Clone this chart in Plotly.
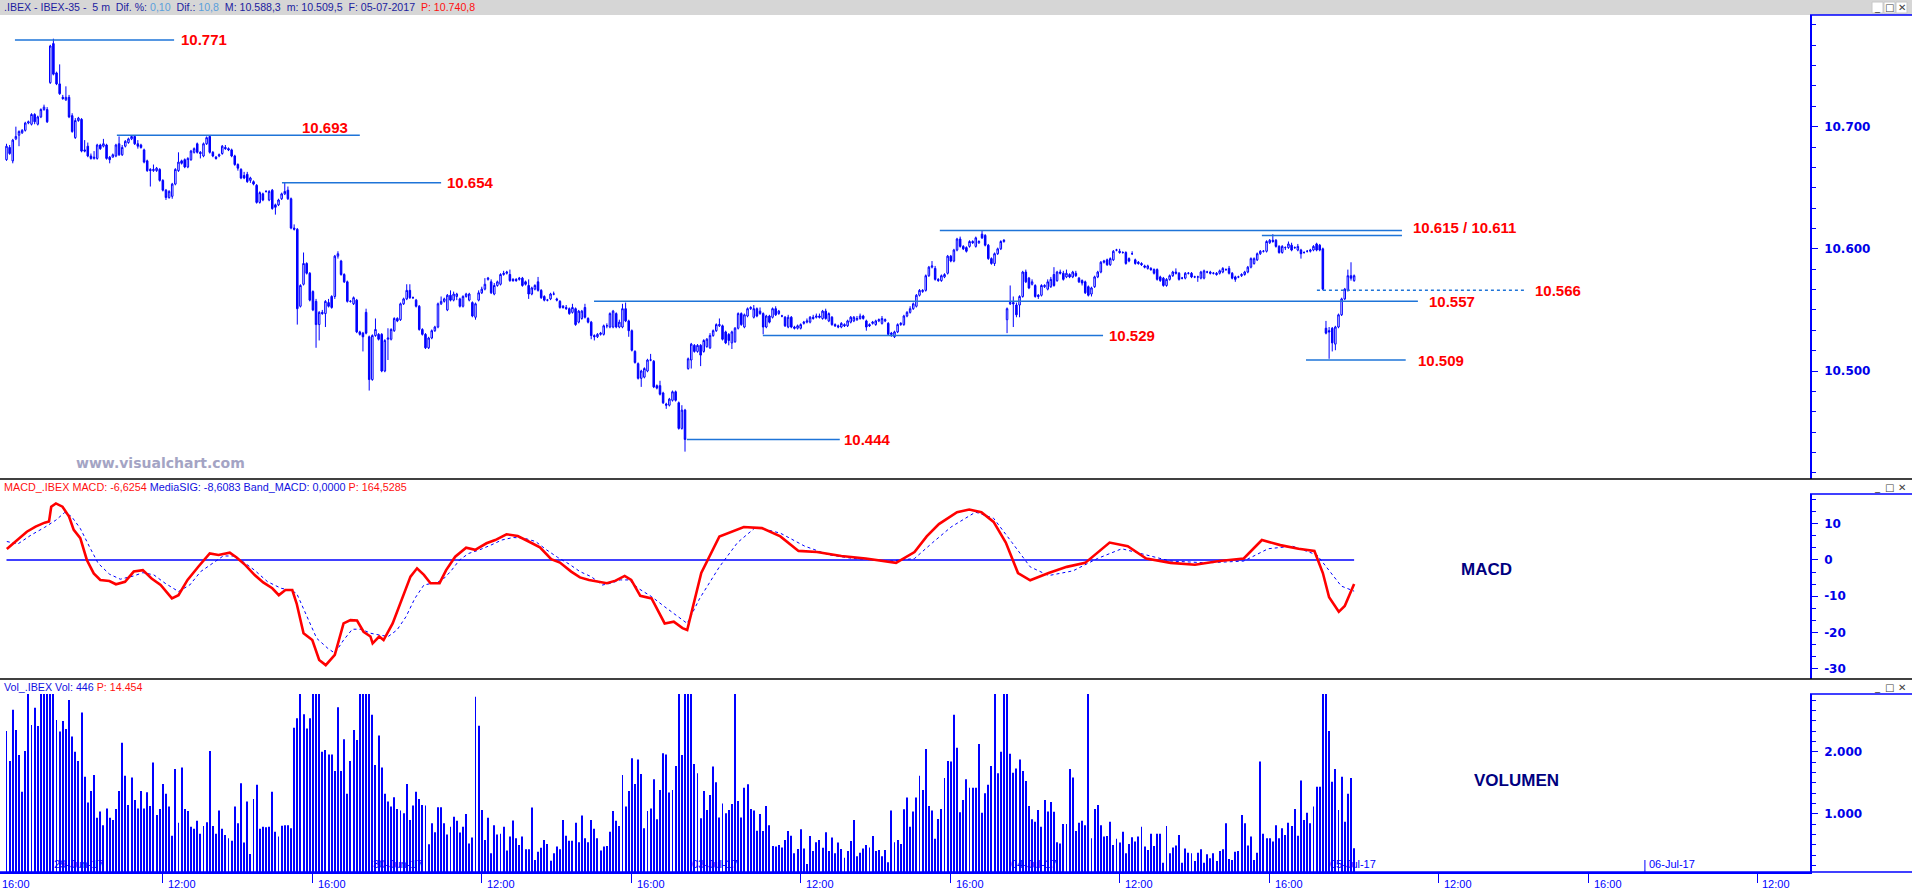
import plotly.graph_objects as go

# ---------------- price data (5 minute bars, index 0 = 28-Jun 16:20) ----------------
open_ = [
    10673,10683,10672,10690,10693,10695,10697,10703,10702,10710,10702,10708,10714,10714,
    10736,10768,10744,10735,10724,10722,10724,10709,10691,10705,
    10706,10681,10684,10676,10674,10674,10685,10684,10685,10675,
    10675,10676,10686,10677,10684,10687,10690,10692,10686,10685,
    10681,10672,10665,10664,10664,10665,10656,10648,10642,10643,
    10653,10664,10672,10673,10667,10673,10679,10686,10679,10676,
    10686,10692,10679,10675,10676,10678,10683,10682,10681,10676,
    10669,10665,10660,10661,10656,10655,10652,10638,10645,10647,
    10640,10648,10636,10636,10641,10645,10648,10641,10617,10616,
    10553,10571,10588,10580,10565,10557,10538,10548,10547,10556,
    10561,10561,10594,10590,10579,10573,10557,10555,10558,10532,
    10531,10548,
    10528,10493,10529,10530,10530,10500,10526,10526,10533,10543,
    10542,10555,10559,10566,10560,10558,10553,10534,10530,10519,
    10527,10533,10536,10555,10557,10550,10562,10558,
    10561,10559,10553,10561,10558,10556,10544,10558,10564,10567,
    10575,10573,10563,10570,10571,10579,10580,10579,10575,10575,
    10575,10576,10573,10570,10563,10567,10573,10566,10561,10558,
    10559,10563,10559,10557,10553,10552,10551,10548,10551,10540,
    10543,10552,10543,10540,10529,10528,10530,10530,10537,10536,
    10536,10547,10536,10536,10551,10541,10533,10516,10506,10494,
    10495,10500,10509,10508,10488,10488,10482,10473,10472,10476,
    10483,10474,10453,10468,
    10502,10509,10521,10516,10521,10516,10520,10519,10529,10533,
    10537,10537,10532,10530,10523,10524,10535,10547,10536,10545,
    10551,10544,10551,10549,10547,10536,10545,10544,10551,10547,
    10545,10544,10536,10544,10536,10535,10535,10539,10540,10540,
    10544,10544,10545,10543,10549,10541,10544,10538,10537,10536,
    10538,10537,10540,10541,10542,10543,10545,10541,10538,10539,
    10538,10541,10539,10541,10539,10531,10528,10532,10538,10538,
    10545,10548,10551,10553,10562,10565,10566,10578,10585,10584,
    10575,10574,10577,10580,10594,10590,10599,10608,10602,10601,
    10602,10606,10602,10605,10612,10611,10603,10592,10588,10596,
    10600,10606,
    10542,10555,10556,10554,10554,10561,10581,10576,10571,10570,
    10562,10562,10569,10567,10569,10579,10574,10581,10580,10577,
    10579,10577,10580,10576,10574,10573,10569,10563,10569,10577,
    10581,10589,10591,10587,10591,10599,10598,10597,10597,10592,
    10596,10591,10589,10588,10586,10584,10584,10583,10583,10577,
    10576,10570,10575,10578,10581,10580,10576,10576,10580,10580,
    10577,10577,10576,10576,10581,10581,10580,10580,10580,10581,
    10583,10584,10580,10577,10577,10578,10579,10581,10585,10588,
    10591,10596,10598,10598,10605,10607,10607,10602,10597,10601,
    10601,10603,10601,10599,10599,10597,10598,10598,10599,10604,
    10603,10600,
    10535,10533,10535,10522,10536,10546,10559,10566,10578,10574,
]
high = [
    10686,10685,10690,10700,10697,10698,10704,10705,10711,10711,10709,10715,10718,10716,
    10767,10772,10745,10751,10726,10733,10726,10711,10707,10708,
    10707,10689,10687,10678,10680,10686,10686,10690,10686,10676,
    10678,10686,10692,10685,10689,10691,10693,10693,10689,10686,
    10682,10673,10666,10669,10667,10666,10657,10649,10648,10654,
    10666,10679,10673,10674,10675,10681,10683,10687,10680,10687,
    10692,10693,10680,10676,10678,10685,10685,10683,10682,10677,
    10670,10666,10663,10663,10659,10656,10653,10647,10646,10648,
    10648,10649,10637,10641,10646,10654,10651,10642,10620,10617,
    10571,10597,10589,10581,10566,10559,10549,10550,10558,10559,
    10562,10595,10598,10591,10580,10574,10558,10561,10559,10533,
    10532,10551,
    10529,10530,10543,10531,10531,10526,10535,10535,10544,10544,
    10556,10560,10571,10571,10561,10559,10554,10535,10531,10528,
    10534,10537,10556,10561,10560,10563,10566,10565,
    10564,10560,10562,10564,10564,10557,10556,10566,10569,10576,
    10577,10575,10572,10574,10580,10582,10582,10583,10576,10576,
    10577,10577,10574,10575,10569,10571,10577,10567,10562,10559,
    10564,10565,10560,10558,10554,10554,10552,10555,10552,10550,
    10550,10555,10544,10541,10530,10531,10532,10538,10539,10548,
    10550,10548,10542,10555,10556,10542,10534,10517,10507,10501,
    10503,10510,10514,10509,10489,10492,10483,10474,10478,10484,
    10484,10475,10472,10469,
    10511,10523,10522,10522,10522,10526,10527,10531,10534,10539,
    10543,10538,10533,10531,10533,10536,10548,10548,10547,10552,
    10553,10554,10552,10552,10548,10546,10546,10552,10553,10550,
    10546,10545,10546,10545,10537,10538,10539,10541,10543,10545,
    10546,10547,10547,10550,10551,10548,10545,10539,10538,10540,
    10539,10542,10545,10545,10545,10547,10546,10542,10539,10541,
    10542,10543,10545,10543,10540,10532,10533,10539,10540,10546,
    10549,10553,10556,10563,10567,10567,10579,10586,10590,10586,
    10576,10579,10580,10595,10595,10600,10609,10610,10603,10602,
    10607,10607,10610,10607,10615,10612,10604,10593,10597,10601,
    10607,10608,
    10552,10570,10561,10556,10562,10582,10583,10577,10575,10571,
    10563,10571,10571,10575,10577,10585,10582,10583,10582,10583,
    10580,10582,10582,10577,10575,10574,10570,10569,10578,10582,
    10590,10591,10592,10593,10599,10600,10600,10598,10598,10593,
    10598,10592,10590,10589,10587,10587,10585,10584,10584,10578,
    10577,10576,10579,10582,10584,10581,10577,10581,10581,10581,
    10578,10578,10582,10583,10582,10582,10581,10581,10583,10585,
    10584,10586,10581,10578,10578,10580,10582,10586,10593,10593,
    10597,10599,10599,10607,10608,10612,10608,10603,10603,10602,
    10606,10605,10602,10604,10600,10598,10599,10600,10603,10605,
    10604,10601,
    10541,10536,10536,10537,10547,10560,10568,10583,10589,10579,
]
low = [
    10672,10677,10670,10689,10684,10694,10696,10702,10701,10702,10701,10707,10713,10703,
    10735,10742,10734,10726,10722,10721,10707,10695,10690,10704,
    10679,10679,10675,10673,10673,10673,10681,10683,10673,10670,
    10675,10675,10676,10676,10683,10686,10689,10685,10682,10682,
    10670,10663,10651,10663,10663,10655,10647,10640,10641,10641,
    10652,10663,10669,10666,10666,10672,10678,10678,10674,10675,
    10685,10678,10675,10673,10675,10677,10681,10680,10675,10668,
    10664,10657,10657,10654,10654,10652,10637,10637,10639,10646,
    10639,10632,10628,10635,10640,10644,10640,10616,10615,10538,
    10552,10570,10579,10557,10549,10519,10525,10546,10536,10552,
    10551,10559,10592,10578,10572,10556,10556,10554,10531,10529,
    10516,10530,
    10484,10492,10528,10525,10499,10499,10509,10525,10532,10540,
    10541,10554,10558,10559,10559,10552,10533,10529,10518,10518,
    10526,10532,10535,10554,10556,10549,10557,10557,
    10558,10552,10552,10560,10557,10544,10542,10557,10563,10566,
    10574,10563,10562,10569,10570,10578,10579,10573,10573,10573,
    10574,10569,10570,10559,10562,10566,10565,10559,10557,10557,
    10558,10562,10557,10551,10551,10550,10546,10547,10537,10539,
    10542,10543,10539,10526,10525,10527,10529,10529,10535,10535,
    10535,10535,10535,10535,10540,10528,10516,10506,10493,10487,
    10494,10499,10508,10486,10485,10480,10473,10469,10471,10475,
    10475,10452,10452,10434,
    10501,10502,10515,10515,10504,10515,10519,10518,10528,10532,
    10536,10525,10522,10521,10518,10523,10534,10537,10535,10544,
    10550,10543,10544,10546,10530,10535,10539,10543,10545,10546,
    10544,10536,10535,10535,10534,10534,10534,10538,10539,10539,
    10542,10543,10543,10542,10542,10540,10537,10536,10535,10535,
    10536,10536,10539,10540,10541,10542,10542,10533,10536,10538,
    10537,10540,10538,10540,10529,10528,10527,10531,10537,10537,
    10544,10547,10550,10552,10561,10564,10565,10577,10584,10574,
    10573,10573,10576,10579,10589,10589,10598,10601,10599,10597,
    10601,10604,10601,10604,10608,10602,10591,10587,10586,10595,
    10599,10605,
    10531,10554,10536,10544,10544,10560,10572,10567,10570,10560,
    10559,10561,10568,10566,10568,10569,10573,10579,10574,10576,
    10576,10576,10577,10572,10570,10563,10561,10561,10568,10576,
    10580,10588,10586,10586,10590,10598,10596,10596,10587,10589,
    10595,10587,10587,10586,10584,10583,10582,10579,10574,10573,
    10569,10569,10574,10577,10579,10574,10575,10575,10579,10576,
    10576,10573,10575,10575,10580,10579,10579,10578,10579,10580,
    10582,10579,10575,10573,10576,10577,10578,10580,10584,10587,
    10590,10595,10597,10597,10604,10605,10601,10596,10596,10599,
    10600,10598,10600,10598,10592,10596,10597,10597,10598,10598,
    10598,10566,
    10530,10510,10516,10517,10535,10545,10558,10565,10574,10573,
]
close = [
    10684,10678,10689,10692,10696,10697,10703,10704,10710,10704,10708,10714,10716,10704,
    10766,10743,10735,10727,10723,10724,10708,10696,10705,10707,
    10680,10680,10676,10674,10675,10685,10682,10686,10674,10673,
    10677,10685,10677,10683,10688,10690,10692,10686,10684,10683,
    10671,10664,10664,10665,10666,10656,10648,10642,10647,10653,
    10665,10671,10670,10667,10674,10680,10682,10679,10678,10686,
    10691,10679,10676,10674,10677,10684,10682,10681,10676,10669,
    10666,10658,10658,10655,10658,10653,10638,10646,10640,10647,
    10647,10633,10634,10640,10645,10647,10641,10617,10616,10551,
    10570,10588,10580,10558,10550,10538,10548,10547,10557,10553,
    10552,10594,10596,10579,10573,10557,10557,10560,10532,10530,
    10528,10531,
    10493,10529,10534,10526,10500,10525,10527,10534,10543,10541,
    10555,10559,10566,10560,10560,10553,10534,10530,10519,10527,
    10533,10536,10555,10557,10559,10562,10558,10563,
    10563,10553,10561,10563,10563,10545,10555,10564,10567,10571,
    10576,10564,10570,10573,10579,10580,10581,10574,10574,10574,
    10576,10570,10571,10563,10568,10570,10566,10560,10558,10558,
    10563,10563,10558,10552,10552,10551,10547,10552,10538,10549,
    10549,10544,10540,10529,10528,10530,10531,10537,10537,10547,
    10549,10536,10540,10551,10541,10533,10517,10507,10494,10500,
    10502,10509,10509,10487,10486,10481,10474,10472,10477,10483,
    10476,10453,10468,10444,
    10510,10522,10516,10521,10513,10525,10526,10529,10533,10538,
    10538,10526,10523,10525,10532,10535,10547,10538,10546,10551,
    10552,10551,10545,10547,10536,10545,10540,10551,10546,10549,
    10545,10537,10544,10536,10535,10537,10538,10540,10541,10544,
    10543,10545,10544,10549,10543,10547,10538,10537,10536,10539,
    10537,10541,10544,10544,10543,10545,10543,10536,10537,10540,
    10541,10542,10543,10542,10530,10530,10532,10538,10539,10545,
    10548,10551,10555,10562,10566,10566,10578,10585,10586,10575,
    10574,10578,10579,10594,10590,10599,10608,10602,10600,10598,
    10606,10605,10609,10606,10609,10603,10592,10588,10596,10600,
    10606,10607,
    10551,10556,10555,10546,10561,10581,10573,10568,10573,10561,
    10561,10570,10570,10573,10575,10570,10581,10580,10575,10580,
    10577,10581,10578,10573,10572,10564,10562,10568,10577,10581,
    10589,10590,10587,10592,10598,10599,10597,10597,10588,10590,
    10596,10588,10588,10587,10585,10586,10583,10580,10575,10574,
    10570,10575,10578,10581,10580,10575,10576,10580,10580,10577,
    10577,10577,10581,10582,10581,10580,10580,10579,10582,10584,
    10583,10580,10576,10575,10577,10579,10581,10585,10592,10592,
    10596,10598,10598,10606,10607,10606,10602,10597,10602,10601,
    10604,10599,10601,10602,10596,10597,10598,10599,10602,10599,
    10599,10567,
    10531,10532,10523,10536,10546,10559,10567,10578,10576,10578,
]

volume = [
    2340,1855,2680,2355,1950,1360,2015,3600,2435,2715,
    2420,3600,3600,3600,3600,3600,2515,2330,2500,2370,
    2840,2250,2005,1855,2635,1600,1185,1370,1630,940,
    1040,820,1090,940,905,1080,1370,2150,1615,1145,
    1590,1225,1090,1370,1090,1350,1130,1830,985,1080,
    1485,1325,1120,650,1725,860,1750,1080,1050,795,
    760,890,680,805,865,2015,805,680,1055,760,
    660,610,570,1120,850,1495,540,1200,355,1240,
    1470,760,795,785,795,1360,715,635,810,820,
    820,770,2390,2545,3600,2610,2380,2545,3600,3600,
    3600,2005,2030,1960,1960,1695,2720,1695,2205,1325,
    1855,2355,2195,3600,3600,3600,3600,2600,1790,2265,
    1750,1325,1200,1120,1270,1080,1055,1010,1485,905,
    1135,1360,1240,1145,1135,510,850,705,1110,1110,
    850,670,795,955,890,700,795,1000,525,620,
    2890,2425,1065,580,940,365,820,670,680,795,
    410,635,895,610,500,635,430,430,1105,260,
    390,455,580,515,245,365,475,430,905,650,
    570,570,860,545,975,610,545,905,760,610,
    410,475,485,715,1050,890,805,1630,1120,1370,
    1900,1485,1880,1645,770,1050,1090,1560,915,1385,
    1980,1960,1345,1385,1775,3600,1950,3600,3600,3600,
    1805,1655,930,1370,1065,1305,1765,1510,945,1170,
    1010,1065,1160,3600,1210,945,1425,1480,1080,1055,
    730,1000,725,1130,820,485,475,500,460,580,
    725,650,365,435,755,445,195,645,405,545,
    580,455,705,405,620,365,540,435,295,405,
    565,905,320,375,445,500,460,645,405,420,
    320,420,220,1055,545,580,515,1075,1265,795,
    1040,1265,1615,1385,2050,1130,1055,600,920,1080,
    1580,1855,1845,2600,2070,1030,1225,1560,1425,1425,
    1425,2130,1020,1335,1470,1775,3600,1655,2005,3600,
    3600,1970,1665,1735,1880,1695,1530,1130,915,875,
    1065,795,1225,1040,1195,1035,545,525,840,840,
    1725,1590,725,860,890,820,3600,610,1080,1145,
    820,635,645,875,500,600,540,715,365,515,
    625,555,635,795,475,420,680,485,680,680,
    215,805,365,460,490,660,215,445,375,
    365,240,375,430,215,350,285,365,240,405,
    430,850,275,260,390,405,985,850,490,635,
    260,375,1845,680,610,610,555,820,610,770,
    660,860,805,1080,650,1540,905,1020,850,1120,
    1440,1440,3600,3600,2340,1520,1725,1065,1600,875,
    1325,1580,446,
]

# MACD (red) and signal (blue dotted) read at bar positions
macd_idx = [0.1,2.9,6.5,9.3,12.2,13.6,14.3,15.8,17.9,20.0,21.5,23.6,25.7,27.9,30.0,32.9,35.0,37.9,40.7,43.6,
            46.4,49.3,52.9,55.0,57.9,61.4,65.0,67.8,71.4,73.6,76.4,79.3,82.1,85.0,87.1,89.2,91.4,92.8,95.0,97.8,
            100.0,102.1,105.0,107.8,110.0,112.1,114.2,116.4,117.1,119.2,120.6,123.5,126.4,129.2,131.3,133.5,135.6,
            138.5,140.6,143.5,147.0,149.9,153.5,156.3,159.9,163.5,167.0,170.6,174.2,177.0,180.6,183.4,186.3,189.1,
            192.0,194.8,197.7,199.8,202.7,206.3,210.5,213.4,216.2,217.7,222.2,228.0,235.8,241.6,247.5,253.3,259.2,
            267.0,274.8,284.5,290.4,294.3,298.2,304.0,307.9,311.8,315.7,319.6,323.5,327.4,333.3,339.1,345.0,352.8,
            358.6,364.5,372.3,380.1,387.9,395.7,401.5,407.4,413.2,418.3,421.0,423.0,426.1,428.0,431.0]
macd_val = [3.0,5.1,7.8,9.2,10.3,10.6,14.7,15.6,14.7,12.0,8.3,6.0,0.0,-3.7,-5.5,-5.8,-6.7,-6.0,-3.2,-2.8,
            -5.1,-6.9,-10.6,-9.7,-5.5,-1.8,1.8,1.4,2.0,0.7,-1.4,-4.1,-6.2,-7.8,-9.7,-8.3,-8.3,-12.0,-20.2,-22.1,
            -27.6,-29.0,-26.2,-17.5,-16.6,-16.7,-19.8,-21.1,-23.0,-21.1,-22.1,-17.5,-11.0,-4.6,-2.3,-4.1,-6.4,
            -6.4,-2.8,0.9,3.4,2.8,4.6,5.5,7.1,6.6,5.1,3.5,0.2,-0.7,-3.2,-4.8,-5.5,-6.0,
            -6.4,-5.7,-4.4,-5.5,-9.9,-10.6,-17.5,-17.0,-18.8,-19.3,-3.6,6.5,9.1,8.8,6.5,2.5,2.2,
            1.1,0.4,-0.8,2.2,6.5,9.9,13.2,13.9,13.2,10.5,4.8,-3.6,-5.6,-3.6,-1.9,-0.8,4.8,
            3.8,0.4,-0.8,-1.3,-0.3,0.4,5.5,4.1,3.1,2.5,-3.6,-10.3,-14.3,-12.7,-6.6]
sig_idx = [0.1,3.6,7.9,12.2,15.8,18.6,20.8,23.6,26.5,29.3,32.9,36.4,40.7,43.6,47.1,50.7,55.0,58.6,62.1,66.4,
           69.3,72.8,75.7,79.3,83.5,87.8,90.7,92.8,95.7,99.2,102.8,105.0,107.8,110.6,113.5,116.4,119.2,122.1,
           124.9,127.8,130.6,133.5,136.3,139.2,142.0,144.9,147.8,151.3,154.9,158.4,162.0,165.6,169.2,172.7,
           176.3,179.9,183.4,187.0,190.6,193.4,196.3,199.1,202.0,206.3,210.5,214.8,217.7,221.7,228.0,233.8,
           239.7,247.5,255.3,263.1,270.9,282.6,290.4,296.2,302.1,309.9,315.7,321.6,327.4,333.3,341.1,348.9,
           356.7,364.5,372.3,384.0,395.7,403.5,411.3,419.1,423.0,426.9,431.0]
sig_val = [5.1,4.4,6.9,9.0,11.0,13.1,12.0,8.7,3.7,-0.9,-3.9,-5.3,-4.4,-3.5,-4.1,-6.4,-8.7,-6.9,-3.2,-0.5,
           1.1,1.1,-0.5,-2.8,-6.0,-7.8,-8.3,-9.2,-14.7,-21.6,-24.4,-25.7,-22.1,-19.1,-19.1,-20.2,-20.7,-21.1,
           -19.3,-15.6,-10.6,-6.9,-6.4,-5.7,-3.2,0.0,1.8,2.8,4.1,5.5,6.2,6.0,5.1,2.8,
           0.7,-1.1,-3.2,-4.6,-6.9,-6.4,-5.5,-5.5,-7.8,-10.1,-12.9,-15.6,-17.5,-10.6,-1.9,4.8,
           9.1,7.4,3.8,1.4,0.4,-0.3,0.4,4.8,9.1,13.2,11.5,4.8,-1.9,-4.3,-3.0,0.4,
           3.1,1.4,-0.3,-0.8,-0.3,3.1,3.8,1.4,-3.0,-7.2,-8.6]
band_macd = 0.0

# support / resistance levels
level_price = [10771, 10693, 10654, 10444, 10529, 10557, 10615, 10611, 10566, 10509]
level_from = [2.7, 35.3, 88.1, 217.6, 241.9, 187.9, 298.5, 401.5, 419.1, 415.6]
level_to = [53.6, 113.0, 139.0, 266.5, 350.7, 451.4, 446.3, 446.3, 485.3, 447.5]
level_text = ["10.771", "10.693", "10.654", "10.444", "10.529", "10.557", "10.615 / 10.611", "", "10.566", "10.509"]

# axis ticks
time_tick_idx = [-6, 50, 98, 152, 200, 254, 302, 356, 404, 458, 506, 560]
time_tick_text = ["16:00", "12:00", "16:00", "12:00", "16:00", "12:00", "16:00", "12:00", "16:00", "12:00", "16:00", "12:00"]
day_start_idx = [14, 116, 218, 320, 422, 524]
day_text = ["29-Jun-17", "30-Jun-17", "03-Jul-17", "04-Jul-17", "05-Jul-17", "06-Jul-17"]
price_ticks = [10500, 10600, 10700]
price_tick_text = ["10.500", "10.600", "10.700"]
macd_ticks = [-30, -20, -10, 0, 10]
macd_tick_text = ["-30", "-20", "-10", "0", "10"]
vol_ticks = [1000, 2000]
vol_tick_text = ["1.000", "2.000"]

# ---------------- figure ----------------
W, H = 1912, 892
ML, MR, MT, MB = 0, 102, 15, 20
PW = W - ML - MR
PH = H - MT - MB


def py(ypix):
    return (H - MB - ypix) / PH


def px(xpix):
    return (xpix - ML) / PW


BLUE = "#0000ff"
LEVEL = "#1e74d8"
n = len(close)
xs = list(range(n))

fig = go.Figure()
fig.add_trace(go.Candlestick(
    x=xs, open=open_, high=high, low=low, close=close,
    increasing=dict(line=dict(color=BLUE, width=1), fillcolor="#ffffff"),
    decreasing=dict(line=dict(color=BLUE, width=1), fillcolor=BLUE),
    whiskerwidth=0, xaxis="x", yaxis="y", hoverinfo="skip"))

fig.add_trace(go.Scatter(x=xs, y=[band_macd] * n, mode="lines",
                         line=dict(color=BLUE, width=1.5), xaxis="x", yaxis="y2", hoverinfo="skip"))
fig.add_trace(go.Scatter(x=sig_idx, y=sig_val, mode="lines",
                         line=dict(color=BLUE, width=1, dash="dot"), xaxis="x", yaxis="y2", hoverinfo="skip"))
fig.add_trace(go.Scatter(x=macd_idx, y=macd_val, mode="lines",
                         line=dict(color="#ff0000", width=2.6), xaxis="x", yaxis="y2", hoverinfo="skip"))

fig.add_trace(go.Bar(x=list(range(len(volume))), y=volume, width=0.3,
                     marker=dict(color=BLUE, line=dict(width=0)), xaxis="x", yaxis="y3", hoverinfo="skip"))

shapes = []
annotations = []

# level lines & labels
for k, lv in enumerate(level_price):
    shapes.append(dict(type="line", xref="x", yref="y", x0=level_from[k], x1=level_to[k], y0=lv, y1=lv,
                       line=dict(color=LEVEL, width=1.5, dash="3px,3px" if k == 8 else "solid")))
label_gap = [5, -10, 4, 2, 4, 9, 9, 0, 9, 10]
for k, txt in enumerate(level_text):
    if not txt:
        continue
    a = dict(x=level_to[k], y=level_price[k], xref="x", yref="y", text=txt, showarrow=False,
             font=dict(family="Liberation Sans", size=15, color="#ff0000", weight="bold"),
             xanchor="left", yanchor="middle", xshift=label_gap[k])
    if k == 1:
        a.update(xanchor="right", yshift=8)
    if k == 6:
        a.update(yshift=3)
    annotations.append(a)

# panel frames / separators
XR = W / PW
shapes.append(dict(type="rect", xref="paper", yref="paper", x0=0, x1=XR, y0=py(15), y1=py(0),
                   fillcolor="#d6d6d6", line=dict(width=0), layer="below"))
for ysep in (479, 679):
    shapes.append(dict(type="line", xref="paper", yref="paper", x0=0, x1=XR, y0=py(ysep), y1=py(ysep),
                       line=dict(color="#000000", width=1.5)))
for ytop in (15, 494, 694):
    shapes.append(dict(type="line", xref="paper", yref="paper", x0=1, x1=XR, y0=py(ytop), y1=py(ytop),
                       line=dict(color=BLUE, width=1.5)))
shapes.append(dict(type="line", xref="paper", yref="paper", x0=0, x1=XR, y0=py(872), y1=py(872),
                   line=dict(color=BLUE, width=1.5)))

# window buttons in header bars
for bx in (1872, 1884, 1896):
    shapes.append(dict(type="rect", xref="paper", yref="paper", x0=px(bx), x1=px(bx + 11),
                       y0=py(13), y1=py(2), fillcolor="#ffffff", line=dict(color="#c8c8c8", width=1)))
for ycen in (7.5, 487, 687):
    for bx, g in zip((1877.5, 1889.5, 1901.5), ("_", "\u25a1", "\u2715")):
        annotations.append(dict(x=px(bx), y=py(ycen), xref="paper", yref="paper", text=g, showarrow=False,
                                font=dict(family="DejaVu Sans", size=10, color="#404040"),
                                xanchor="center", yanchor="middle"))

# headers
annotations.append(dict(
    x=px(2), y=py(7.5), xref="paper", yref="paper", xanchor="left", yanchor="middle", showarrow=False,
    font=dict(family="Liberation Sans", size=10.6, color="#1c1ca0"),
    text=(".IBEX - IBEX-35 -  5 m  Dif. %: <span style='color:#5aa0dc'>0,10</span>  Dif.: "
          "<span style='color:#5aa0dc'>10,8</span>  M: 10.588,3  m: 10.509,5  F: 05-07-2017  "
          "<span style='color:#ff1010'>P: 10.740,8</span>")))
annotations.append(dict(
    x=px(2), y=py(487), xref="paper", yref="paper", xanchor="left", yanchor="middle", showarrow=False,
    font=dict(family="Liberation Sans", size=10.8, color="#ff1010"),
    text=("MACD_.IBEX MACD: -6,6254 <span style='color:#1010e0'>MediaSIG: -8,6083 Band_MACD: 0,0000</span> "
          "P: 164,5285")))
annotations.append(dict(
    x=px(2), y=py(687), xref="paper", yref="paper", xanchor="left", yanchor="middle", showarrow=False,
    font=dict(family="Liberation Sans", size=10.7, color="#1010e0"),
    text="Vol_.IBEX Vol: 446 <span style='color:#ff1010'>P: 14.454</span>"))

annotations.append(dict(x=px(160), y=py(463), xref="paper", yref="paper", text="www.visualchart.com",
                        showarrow=False, xanchor="center", yanchor="middle",
                        font=dict(family="DejaVu Sans", size=14, color="#a4a4c4", weight="bold")))
annotations.append(dict(x=px(1486), y=py(569.5), xref="paper", yref="paper", text="MACD", showarrow=False,
                        xanchor="center", yanchor="middle",
                        font=dict(family="Liberation Sans", size=17, color="#000080", weight="bold")))
annotations.append(dict(x=px(1516), y=py(780), xref="paper", yref="paper", text="VOLUMEN", showarrow=False,
                        xanchor="center", yanchor="middle",
                        font=dict(family="Liberation Sans", size=17, color="#000080", weight="bold")))

# time tick labels (left aligned next to tick)
for ti, tt in zip(time_tick_idx, time_tick_text):
    if ti < -2:
        annotations.append(dict(x=0, y=py(884), xref="paper", yref="paper", text=tt, showarrow=False,
                                xanchor="left", yanchor="middle",
                                font=dict(family="Liberation Sans", size=11, color=BLUE)))
    else:
        annotations.append(dict(x=ti, y=py(884), xref="x", yref="paper", text=tt, showarrow=False,
                                xanchor="left", yanchor="middle", xshift=3,
                                font=dict(family="Liberation Sans", size=11, color=BLUE)))
# day labels inside volume panel
for di, dt in zip(day_start_idx, day_text):
    shapes.append(dict(type="line", xref="x", yref="paper", x0=di, x1=di, y0=0, y1=py(860),
                       line=dict(color=BLUE, width=1), layer="below"))
    annotations.append(dict(x=di, y=py(864), xref="x", yref="paper", text=dt, showarrow=False,
                            xanchor="left", yanchor="middle", xshift=2,
                            font=dict(family="Liberation Sans", size=11, color=BLUE)))

yax_common = dict(anchor="x", side="right", showgrid=False, zeroline=False, showline=True,
                  linecolor=BLUE, linewidth=1.5, ticks="outside", ticklen=6, tickwidth=1, tickcolor=BLUE,
                  tickmode="array", ticklabelstandoff=4, fixedrange=True,
                  tickfont=dict(family="DejaVu Sans", size=12, color="#0000e8", weight="bold"))

fig.update_layout(
    width=W, height=H, margin=dict(l=ML, r=MR, t=MT, b=MB),
    paper_bgcolor="#ffffff", plot_bgcolor="#ffffff", showlegend=False, separators=",.",
    hovermode=False,
    xaxis=dict(domain=[0, 1], anchor="y3", range=[-2.08, 576.8], showgrid=False, zeroline=False,
               showline=True, linecolor=BLUE, linewidth=1.5, ticks="outside", tickmode="array",
               tickvals=time_tick_idx, ticklen=9, tickcolor=BLUE, showticklabels=False,
               rangeslider=dict(visible=False), fixedrange=True),
    yaxis=dict(domain=[py(479), 1], range=[10411.6, 10791.4], tickvals=price_ticks, ticktext=price_tick_text,
               minor=dict(ticks="outside", ticklen=4, tickcolor=BLUE, tick0=10500, dtick=100 / 6, showgrid=False),
               **yax_common),
    yaxis2=dict(domain=[py(679), py(494)], range=[-32.83, 18.2], tickvals=macd_ticks, ticktext=macd_tick_text,
                minor=dict(ticks="outside", ticklen=4, tickcolor=BLUE, tick0=0, dtick=10 / 3, showgrid=False),
                **yax_common),
    yaxis3=dict(domain=[0, py(694)], range=[64.5, 2935], tickvals=vol_ticks, ticktext=vol_tick_text,
                minor=dict(ticks="outside", ticklen=4, tickcolor=BLUE, tick0=0, dtick=1000 / 6, showgrid=False),
                **yax_common),
    shapes=shapes, annotations=annotations,
)

fig.write_html("out.html", config={"displayModeBar": False},
               post_script="document.body.style.margin='0';document.body.style.overflow='hidden';")
